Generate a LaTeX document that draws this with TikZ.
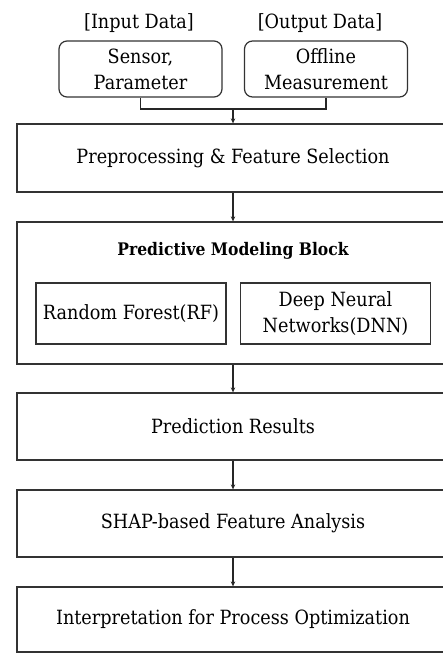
\documentclass[tikz,border=0pt]{standalone}
\usepackage{fontspec}
\setmainfont{DejaVu Serif}[FakeStretch=0.9]
\usetikzlibrary{arrows.meta}
\begin{document}
\begin{tikzpicture}[x=1pt,y=-1pt,
  txt/.style={font=\fontsize{19.6}{26}\selectfont},
  mainbox/.style={draw=black!80, line width=1.3pt, inner sep=0pt, align=center, minimum width=432pt, txt},
  rbox/.style={draw=black!80, line width=1.2pt, rounded corners=8pt, inner sep=0pt, align=center, minimum width=163pt, minimum height=56pt, txt},
  subbox/.style={draw=black!80, line width=1.2pt, inner sep=0pt, align=center, minimum width=190pt, minimum height=61pt, txt},
  lbl/.style={inner sep=0pt, txt},
  conn/.style={draw=black!85, line width=1.1pt},
  arr/.style={conn, -{Stealth[length=5pt,width=4.5pt]}}
]
\useasboundingbox (0,0) rectangle (443,653);
\clip (0,0) rectangle (443,653);

\node[lbl] (inlbl) at (139,23) {[Input Data]};
\node[lbl] (outlbl) at (320,23) {[Output Data]};

\node[rbox] (sensor) at (140.5,69) {Sensor,\\Parameter};
\node[rbox] (offline) at (326,69) {Offline\\Measurement};

\node[mainbox, minimum height=68pt] (pre) at (233,158) {Preprocessing \& Feature Selection};
\node[mainbox, minimum height=142pt] (pmb) at (233,293) {};
\node[lbl, font=\fontsize{17.3}{26}\selectfont\bfseries] (pmbt) at (233,251) {Predictive Modeling Block};
\node[subbox] (rf) at (131,313.5) {Random Forest(RF)};
\node[subbox] (dnn) at (335.5,313.5) {Deep Neural\\Networks(DNN)};

\node[mainbox, minimum height=67pt] (res) at (233,426.5) {Prediction Results};
\node[mainbox, minimum height=67pt] (shap) at (233,523.5) {SHAP-based Feature Analysis};
\node[mainbox, minimum height=65pt] (interp) at (233,619.5) {Interpretation for Process Optimization};

\coordinate (j) at (233,109);
\draw[conn] (sensor.south) |- (j) -| (offline.south);
\draw[arr] (j) -- (pre.north);
\draw[arr] (pre.south) -- (pmb.north);
\draw[arr] (pmb.south) -- (res.north);
\draw[arr] (res.south) -- (shap.north);
\draw[arr] (shap.south) -- (interp.north);
\end{tikzpicture}
\end{document}
